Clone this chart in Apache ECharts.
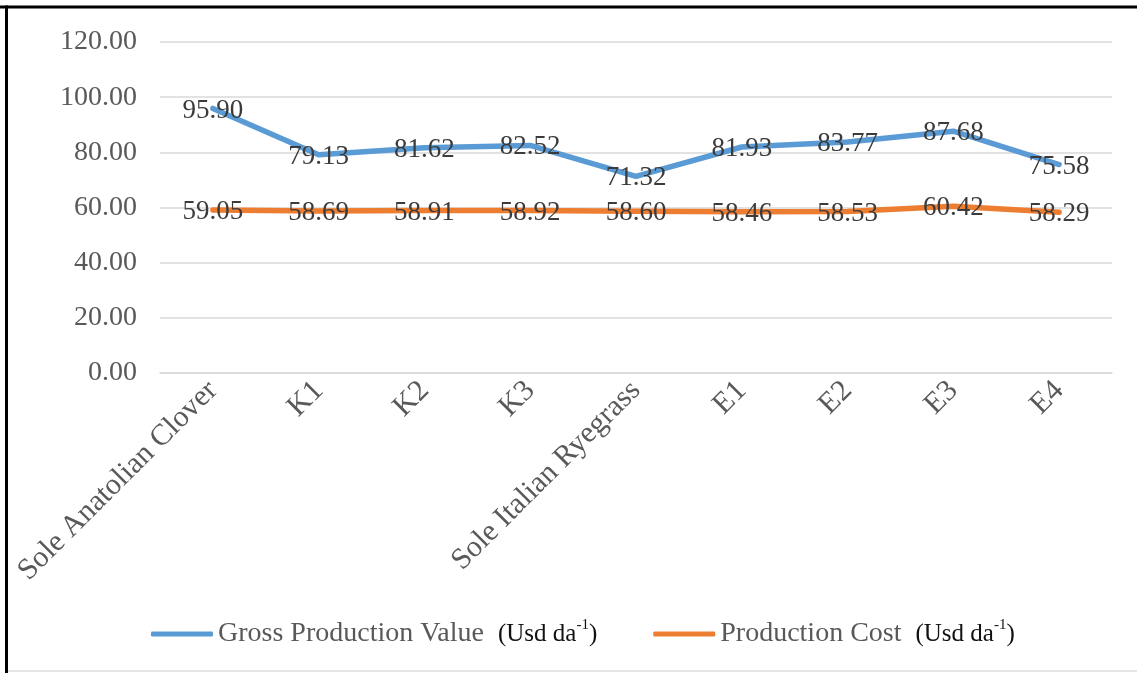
<!DOCTYPE html>
<html>
<head>
<meta charset="utf-8">
<script src="https://cdn.jsdelivr.net/npm/echarts@6/dist/echarts.min.js"></script>
<style>
  html, body { margin: 0; padding: 0; background: #fff; }
  #chart { width: 1137px; height: 673px; }
</style>
</head>
<body>
<div id="chart"></div>
<script>
// Treatments along the x axis
const categories = ['Sole Anatolian Clover', 'K1', 'K2', 'K3', 'Sole Italian Ryegrass', 'E1', 'E2', 'E3', 'E4'];
// Gross production value (Usd da-1)
const grossValue = [95.90, 79.13, 81.62, 82.52, 71.32, 81.93, 83.77, 87.68, 75.58];
// Production cost (Usd da-1)
const productionCost = [59.05, 58.69, 58.91, 58.92, 58.60, 58.46, 58.53, 60.42, 58.29];
const seriesNames = ['Gross Production Value', 'Production Cost'];
const unitText = ['(Usd da', '-1', ')'];
const yTicks = { min: 0, max: 120, interval: 20 };

const FONT = '"Liberation Serif", "Times New Roman", serif';
const chart = echarts.init(document.getElementById('chart'), null, { renderer: 'canvas' });

function lineSeries(name, data, color) {
  return {
    name: name,
    type: 'line',
    data: data,
    symbol: 'circle',
    symbolSize: 1,
    showSymbol: true,
    itemStyle: { color: color },
    lineStyle: { color: color, width: 5.5, cap: 'round', join: 'round' },
    label: {
      show: true,
      position: 'inside',
      offset: [0, 2],
      formatter: p => p.value.toFixed(2),
      fontFamily: FONT,
      fontSize: 27,
      color: '#3b3b3b'
    },
    emphasis: { disabled: true },
    animation: false
  };
}

chart.setOption({
  backgroundColor: '#fff',
  animation: false,
  grid: { left: 160, right: 25, top: 42, bottom: 300, containLabel: false },
  legend: {
    bottom: 20,
    left: 146,
    itemWidth: 62,
    itemHeight: 5,
    itemGap: 56,
    icon: 'roundRect',
    data: seriesNames,
    formatter: name => '{n|' + name + '}  {u|' + unitText[0] + '}{s|' + unitText[1] + '}{u|' + unitText[2] + '}',
    textStyle: {
      fontFamily: FONT,
      fontSize: 28,
      color: '#595959',
      rich: {
        n: { fontFamily: FONT, fontSize: 28, color: '#595959', lineHeight: 32 },
        u: { fontFamily: FONT, fontSize: 25, color: '#111', lineHeight: 32 },
        s: { fontFamily: FONT, fontSize: 15, color: '#111', lineHeight: 30, verticalAlign: 'top' }
      }
    }
  },
  xAxis: {
    type: 'category',
    data: categories,
    boundaryGap: true,
    axisLine: { show: true, lineStyle: { color: '#d9d9d9', width: 1.5 } },
    axisTick: { show: false },
    axisLabel: {
      interval: 0,
      rotate: 45,
      margin: 13,
      fontFamily: FONT,
      fontSize: 30,
      color: '#595959'
    }
  },
  yAxis: {
    type: 'value',
    min: yTicks.min,
    max: yTicks.max,
    interval: yTicks.interval,
    axisLine: { show: false },
    axisTick: { show: false },
    splitLine: { lineStyle: { color: '#d9d9d9', width: 1.5 } },
    axisLabel: {
      margin: 23,
      formatter: v => v.toFixed(2),
      fontFamily: FONT,
      fontSize: 28,
      color: '#595959'
    }
  },
  graphic: [
    { type: 'line', shape: { x1: 0, y1: 7, x2: 1137, y2: 7 }, style: { stroke: '#000', lineWidth: 3 }, silent: true },
    { type: 'line', shape: { x1: 6.5, y1: 5.5, x2: 6.5, y2: 673 }, style: { stroke: '#000', lineWidth: 3 }, silent: true },
    { type: 'line', shape: { x1: 8, y1: 671, x2: 1137, y2: 671 }, style: { stroke: '#e6e6e6', lineWidth: 2 }, silent: true }
  ],
  series: [
    lineSeries(seriesNames[0], grossValue, '#5B9BD5'),
    lineSeries(seriesNames[1], productionCost, '#ED7D31')
  ]
});
</script>
</body>
</html>
